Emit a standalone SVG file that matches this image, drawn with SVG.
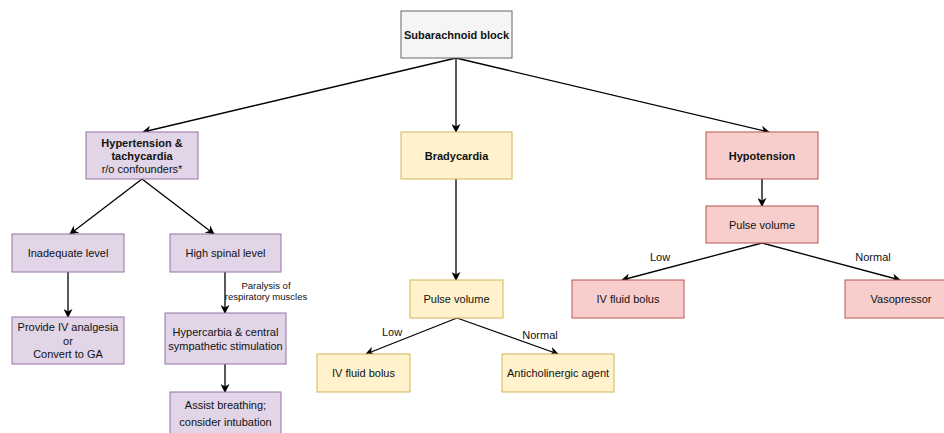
<svg xmlns="http://www.w3.org/2000/svg" width="944" height="433" viewBox="0 0 944 433">
<style>
text{font-family:"Liberation Sans",Arial,sans-serif;font-size:11px;fill:#111;text-anchor:middle;dominant-baseline:central}
.b{font-weight:bold}
.s{font-size:9.5px}
.gray{fill:#f5f5f5;stroke:#666;stroke-width:1}
.pur{fill:#e1d5e7;stroke:#9673a6;stroke-width:1}
.yel{fill:#fff2cc;stroke:#d6b656;stroke-width:1}
.red{fill:#f8cecc;stroke:#b85450;stroke-width:1}
.e{fill:none;stroke:#000;stroke-width:1.3;marker-end:url(#a)}
</style>
<defs>
<marker id="a" viewBox="0 0 10 10" refX="9" refY="5" markerWidth="9" markerHeight="9" markerUnits="userSpaceOnUse" orient="auto">
<path d="M0,0 L10,5 L0,10 L3,5 Z" fill="#000"/>
</marker>
</defs>
<g id="connectors">
<path class="e" d="M456,58 L143,132"/>
<path class="e" d="M456,58 L456,132"/>
<path class="e" d="M456,58 L769,132"/>
<path class="e" d="M142,179 L70,234"/>
<path class="e" d="M142,179 L214,234"/>
<path class="e" d="M68,272 L68,317"/>
<path class="e" d="M225,272 L225,313"/>
<path class="e" d="M225,364 L225,392"/>
<path class="e" d="M456,179 L456,280"/>
<path class="e" d="M457,318 L366,354"/>
<path class="e" d="M457,318 L558,354"/>
<path class="e" d="M762,179 L762,206"/>
<path class="e" d="M762,243 L622,280"/>
<path class="e" d="M762,243 L900,280"/>
<text class="s" x="266" y="285">Paralysis of</text>
<text class="s" x="266" y="296">respiratory muscles</text>
<text x="392" y="332">Low</text>
<text x="540" y="335">Normal</text>
<text x="660" y="257">Low</text>
<text x="873" y="257">Normal</text>
</g>
<g id="root"><rect class="gray" x="401" y="11" width="111" height="47"/><text class="b" x="456.5" y="34.5">Subarachnoid block</text></g>
<g id="hypertension"><rect class="pur" x="86" y="132" width="112" height="47"/><text class="b" x="142" y="143">Hypertension &amp;</text><text class="b" x="142" y="155.5">tachycardia</text><text x="142" y="169">r/o confounders*</text></g>
<g id="inadequate"><rect class="pur" x="12" y="234" width="112" height="38"/><text x="68" y="253">Inadequate level</text></g>
<g id="highspinal"><rect class="pur" x="170" y="234" width="111" height="38"/><text x="225.5" y="253">High spinal level</text></g>
<g id="provide"><rect class="pur" x="12" y="317" width="112" height="47"/><text x="68" y="327">Provide IV analgesia</text><text x="68" y="340.5">or</text><text x="68" y="353.5">Convert to GA</text></g>
<g id="hypercarbia"><rect class="pur" x="165" y="313" width="121" height="51"/><text x="225.5" y="332">Hypercarbia &amp; central</text><text x="225.5" y="346">sympathetic stimulation</text></g>
<g id="assist"><rect class="pur" x="170" y="392" width="111" height="47"/><text x="225.5" y="405">Assist breathing;</text><text x="225.5" y="422">consider intubation</text></g>
<g id="bradycardia"><rect class="yel" x="401" y="132" width="111" height="47"/><text class="b" x="456.5" y="155.5">Bradycardia</text></g>
<g id="pulse1"><rect class="yel" x="410" y="280" width="93" height="38"/><text x="456.5" y="299">Pulse volume</text></g>
<g id="ivfluid1"><rect class="yel" x="317" y="354" width="93" height="38"/><text x="363.5" y="373">IV fluid bolus</text></g>
<g id="anticholinergic"><rect class="yel" x="502" y="354" width="112" height="38"/><text x="558" y="373">Anticholinergic agent</text></g>
<g id="hypotension"><rect class="red" x="706" y="132" width="112" height="47"/><text class="b" x="762" y="155.5">Hypotension</text></g>
<g id="pulse2"><rect class="red" x="706" y="206" width="112" height="37"/><text x="762" y="224.5">Pulse volume</text></g>
<g id="ivfluid2"><rect class="red" x="572" y="280" width="112" height="38"/><text x="628" y="299">IV fluid bolus</text></g>
<g id="vasopressor"><rect class="red" x="845" y="280" width="112" height="38"/><text x="901" y="299">Vasopressor</text></g>
</svg>
